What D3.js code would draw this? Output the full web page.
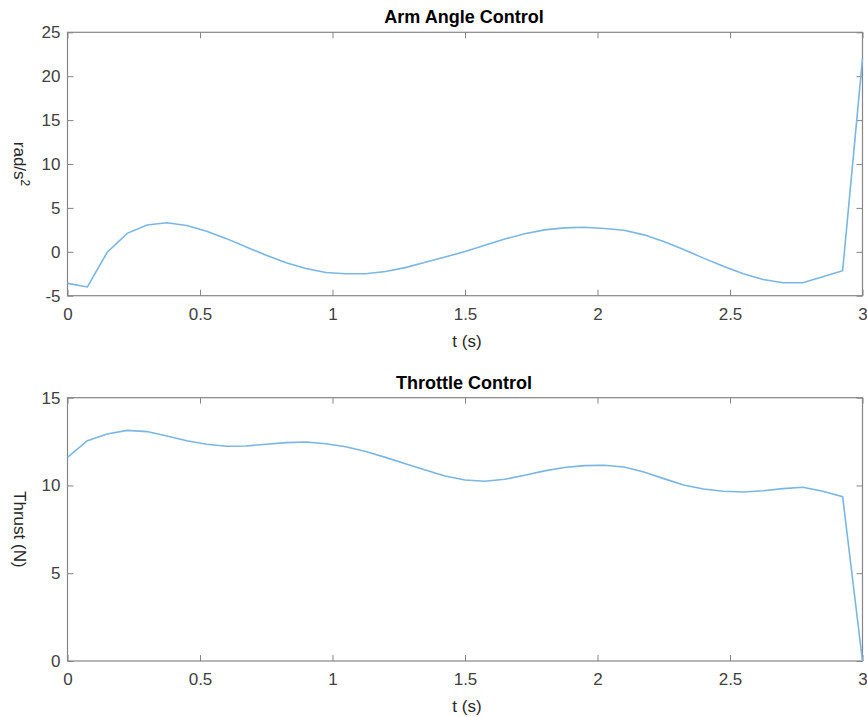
<!DOCTYPE html>
<html>
<head>
<meta charset="utf-8">
<script src="https://cdn.jsdelivr.net/npm/d3@7"></script>
<style>
body{margin:0;background:#fff;}
text{font-family:"Liberation Sans",Arial,sans-serif;}
</style>
</head>
<body>
<div id="chart"></div>
<script>
// sample times (s), 41 points at dt = 0.075
var tValues = [0,0.075,0.15,0.225,0.3,0.375,0.45,0.525,0.6,0.675,0.75,0.825,0.9,0.975,1.05,1.125,1.2,1.275,1.35,1.425,1.5,1.575,1.65,1.725,1.8,1.875,1.95,2.025,2.1,2.175,2.25,2.325,2.4,2.475,2.55,2.625,2.7,2.775,2.85,2.925,3.0];
// arm angle control (rad/s^2)
var armValues = [-3.6,-4.0,-0.05,2.1,3.05,3.3,3.0,2.35,1.5,0.55,-0.4,-1.25,-1.9,-2.35,-2.5,-2.5,-2.25,-1.8,-1.2,-0.6,0.03,0.75,1.45,2.05,2.5,2.72,2.8,2.65,2.45,1.93,1.17,0.26,-0.72,-1.64,-2.5,-3.15,-3.53,-3.53,-2.85,-2.16,22.0];
// throttle control (N)
var thrustValues = [11.6,12.55,12.93,13.14,13.07,12.82,12.55,12.35,12.23,12.25,12.35,12.44,12.48,12.38,12.21,11.93,11.6,11.24,10.88,10.54,10.31,10.24,10.35,10.58,10.83,11.02,11.13,11.15,11.05,10.77,10.39,10.03,9.8,9.67,9.63,9.7,9.82,9.9,9.67,9.36,0];
var xTicks = [0,0.5,1,1.5,2,2.5,3];
var armTicks = [-5,0,5,10,15,20,25];
var thrustTicks = [0,5,10,15];

var W = 867, H = 717;
var svg = d3.select("#chart").append("svg").attr("width", W).attr("height", H);

var left = 67.5, right = 862.5;
var axisColor = "#858585", textColor = "#404040", lineColor = "#7ab6e2";
var plain = function(d){ return String(d); };   // keep the plain hyphen for negatives

function panel(top, bottom, values, yDomain, yTicks, title) {
  var x = d3.scaleLinear().domain([0, 3]).range([left, right]);
  var y = d3.scaleLinear().domain(yDomain).range([bottom, top]);
  var g = svg.append("g");

  // ticks on all four sides, pointing in
  var tl = 6;
  g.append("g").attr("transform", "translate(0," + bottom + ")")
    .call(d3.axisBottom(x).tickValues(xTicks).tickSizeInner(-tl).tickSizeOuter(0).tickPadding(12).tickFormat(plain));
  g.append("g").attr("transform", "translate(0," + top + ")")
    .call(d3.axisTop(x).tickValues(xTicks).tickSizeInner(-tl).tickSizeOuter(0).tickFormat(""));
  g.append("g").attr("transform", "translate(" + left + ",0)")
    .call(d3.axisLeft(y).tickValues(yTicks).tickSizeInner(-tl).tickSizeOuter(0).tickPadding(7).tickFormat(plain));
  g.append("g").attr("transform", "translate(" + right + ",0)")
    .call(d3.axisRight(y).tickValues(yTicks).tickSizeInner(-tl).tickSizeOuter(0).tickFormat(""));
  g.selectAll(".domain").remove();
  g.selectAll(".tick line").attr("stroke", axisColor);
  g.selectAll(".tick text").attr("fill", textColor).style("font-size", "17px")
    .style("font-family", "'Liberation Sans', Arial, sans-serif");

  g.append("rect").attr("x", left).attr("y", top)
    .attr("width", right - left).attr("height", bottom - top)
    .attr("fill", "none").attr("stroke", axisColor).attr("stroke-width", 1.2);

  var line = d3.line().x(function(d, i){ return x(tValues[i]); }).y(function(d){ return y(d); });
  g.append("path").datum(values).attr("d", line)
    .attr("fill", "none").attr("stroke", lineColor).attr("stroke-width", 1.6);

  g.append("text").attr("x", (left + right) / 2 - 1).attr("y", top - 9)
    .attr("text-anchor", "middle").style("font-weight", "bold").style("font-size", "18px")
    .attr("fill", "#000").text(title);

  g.append("text").attr("x", (left + right) / 2 + 2).attr("y", bottom + 51)
    .attr("text-anchor", "middle").style("font-size", "17px").attr("fill", "#262626").text("t (s)");

  var yl = g.append("text").attr("transform", "translate(14," + ((top + bottom) / 2) + ") rotate(90)")
    .attr("text-anchor", "middle").style("font-size", "17px").attr("fill", "#262626");
  return yl;
}

var yl1 = panel(32.3, 295.7, armValues, [-5, 25], armTicks, "Arm Angle Control");
yl1.append("tspan").text("rad/s");
yl1.append("tspan").attr("dy", -7).style("font-size", "12px").text("2");

var yl2 = panel(397.7, 661, thrustValues, [0, 15], thrustTicks, "Throttle Control");
yl2.text("Thrust (N)");
</script>
</body>
</html>
